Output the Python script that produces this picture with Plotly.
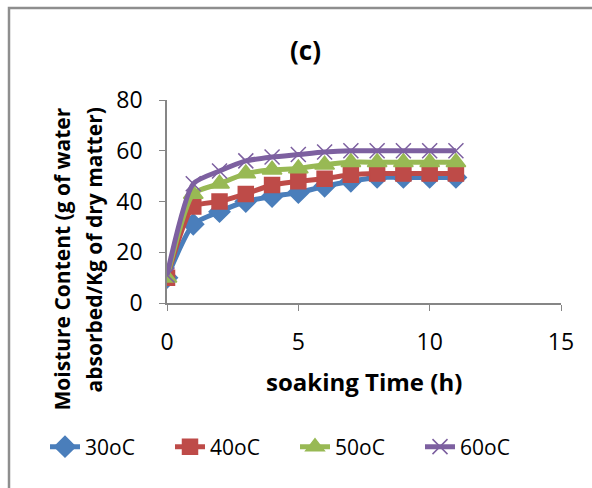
import plotly.graph_objects as go

# Soaking time (h)
hours = list(range(0, 12))

# Moisture content (g water absorbed / kg dry matter) at each soaking temperature
mc_30 = [10, 31, 36, 40, 42, 43.5, 46, 48, 49.5, 49.5, 49.5, 49.5]
mc_40 = [10, 38, 40, 43, 46.5, 48, 49, 50.5, 51, 51, 51, 51]
mc_50 = [10, 43, 47, 51, 52.5, 53, 54.5, 55.5, 55.5, 55.5, 55.5, 55.5]
mc_60 = [11, 47, 52, 56, 57.5, 58.5, 59.5, 60, 60, 60, 60, 60]

series = [
    ("30oC", mc_30, "#4A7EBB", "diamond", 16),
    ("40oC", mc_40, "#BE4B48", "square", 15),
    ("50oC", mc_50, "#98B954", "triangle-up", 17),
    ("60oC", mc_60, "#7D60A0", "x-thin-open", 15),
]

FONT = "'Open Sans', sans-serif"
W, H = 592, 488
L, R, T, B = 167, 31, 100, 185
PW, PH = W - L - R, H - T - B


def px_x(p):
    return (p - L) / PW


def px_y(p):
    return (H - B - p) / PH


fig = go.Figure()
for name, vals, color, sym, size in series:
    fig.add_trace(go.Scatter(
        x=hours, y=vals, name=name, mode="lines+markers",
        line=dict(color=color, width=5, shape="spline", smoothing=0.6),
        marker=dict(symbol=sym, size=size, color=color,
                    line=dict(color=color, width=1.5)),
    ))

fig.update_layout(
    width=W, height=H,
    margin=dict(l=L, r=R, t=T, b=B),
    paper_bgcolor="white", plot_bgcolor="white",
    font=dict(family=FONT, size=23, color="black"),
    showlegend=True,
    legend=dict(orientation="h", xref="paper", yref="paper",
                x=px_x(45), xanchor="left", y=px_y(447), yanchor="middle",
                font=dict(size=21), entrywidth=80, entrywidthmode="pixels",
                bgcolor="rgba(0,0,0,0)", tracegroupgap=0, itemsizing="trace"),
    xaxis=dict(range=[0, 15], tickvals=[0, 5, 10, 15], showgrid=False,
               zeroline=False, showline=True, linecolor="#868686", linewidth=1.5,
               ticks="outside", ticklen=6, tickcolor="#868686",
               tickfont=dict(size=23), ticklabelstandoff=12),
    yaxis=dict(range=[0, 80], tickvals=[0, 20, 40, 60, 80], showgrid=False,
               zeroline=False, showline=True, linecolor="#868686", linewidth=1.5,
               ticks="outside", ticklen=6, tickcolor="#868686",
               tickfont=dict(size=23), ticklabelstandoff=12),
)

# Titles
fig.add_annotation(text="<b>(c)</b>", xref="paper", yref="paper",
                   x=px_x(305), y=px_y(50),
                   showarrow=False, font=dict(size=26), xanchor="center", yanchor="middle")
fig.add_annotation(text="<b>soaking Time (h)</b>", xref="paper", yref="paper",
                   x=px_x(364), y=px_y(381),
                   showarrow=False, font=dict(size=24), xanchor="center", yanchor="middle")
for line_text, cx in [("Moisture Content (g of water", 61),
                      ("absorbed/Kg of dry matter)", 93)]:
    fig.add_annotation(text="<b>" + line_text + "</b>",
                       xref="paper", yref="paper", textangle=-90,
                       x=px_x(cx), y=px_y(106),
                       showarrow=False, font=dict(size=21),
                       xanchor="center", yanchor="top")

# Chart frame (left and top edges visible)
fig.add_shape(type="rect", xref="paper", yref="paper",
              x0=px_x(9), x1=1.2, y0=-1.2, y1=px_y(8),
              line=dict(color="#8E8E8E", width=2.5), fillcolor="rgba(0,0,0,0)",
              layer="below")

fig.write_html("out.html")
